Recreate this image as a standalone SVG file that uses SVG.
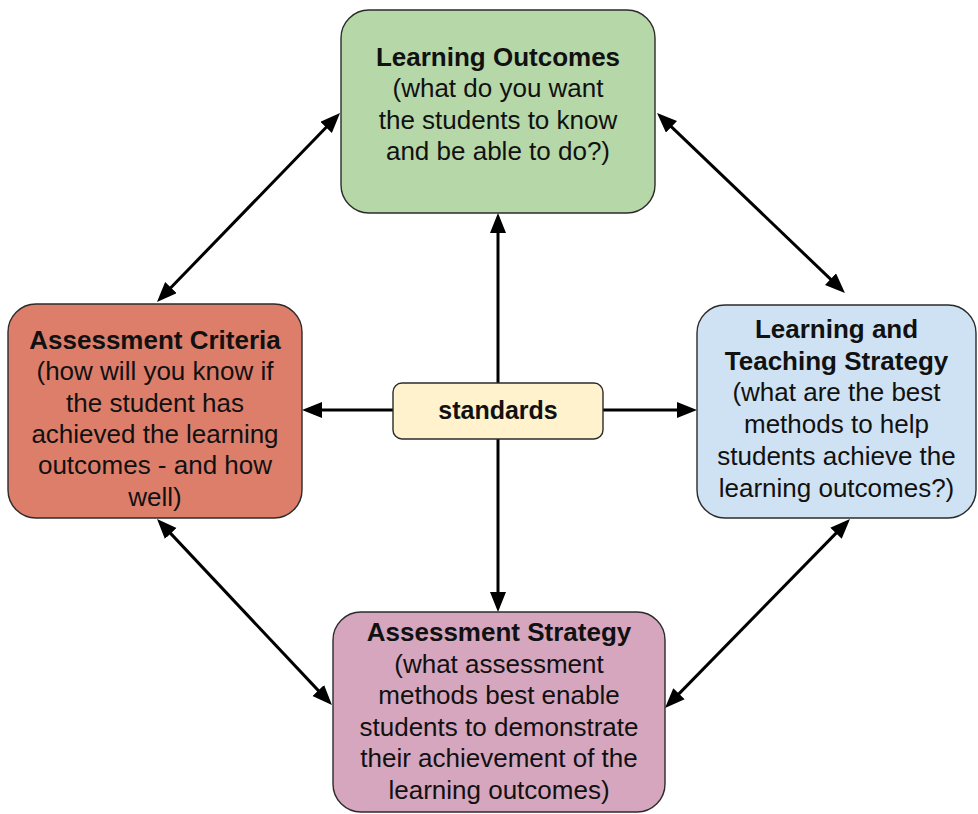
<svg xmlns="http://www.w3.org/2000/svg" width="978" height="814" viewBox="0 0 978 814">
<style>
.box{stroke:#2b2b2b;stroke-width:1.4}
text{font-family:"Liberation Sans",Arial,sans-serif;font-size:26px;fill:#111;text-anchor:middle}
.b{font-weight:bold}
.c{stroke:#000;stroke-width:3;fill:none}
</style>
<defs>
<marker id="ah" markerUnits="userSpaceOnUse" markerWidth="22" markerHeight="18" refX="4" refY="8" orient="auto-start-reverse">
<path d="M0,0 L20,8 L0,16 z" fill="#000"/>
</marker>
</defs>
<rect width="978" height="814" fill="#fff"/>
<g id="connectors">
<line class="c" x1="498" y1="383" x2="498" y2="229" marker-end="url(#ah)"/>
<line class="c" x1="393" y1="410" x2="318" y2="410" marker-end="url(#ah)"/>
<line class="c" x1="603" y1="410" x2="681" y2="410" marker-end="url(#ah)"/>
<line class="c" x1="498" y1="439" x2="498" y2="596" marker-end="url(#ah)"/>
<line class="c" x1="328.9" y1="124.5" x2="168.1" y2="290.5" marker-start="url(#ah)" marker-end="url(#ah)"/>
<line class="c" x1="668.6" y1="124.1" x2="833.4" y2="281.9" marker-start="url(#ah)" marker-end="url(#ah)"/>
<line class="c" x1="168" y1="530.6" x2="321" y2="693.4" marker-start="url(#ah)" marker-end="url(#ah)"/>
<line class="c" x1="838.8" y1="530.4" x2="676.2" y2="696.6" marker-start="url(#ah)" marker-end="url(#ah)"/>
</g>
<g id="learning-outcomes">
<rect class="box" x="341" y="10" width="314" height="203" rx="28" fill="#b6d7a8"/>
<text x="498" y="66" class="b">Learning Outcomes</text>
<text x="498" y="97">(what do you want</text>
<text x="498" y="129">the students to know</text>
<text x="498" y="160">and be able to do?)</text>
</g>
<g id="assessment-criteria">
<rect class="box" x="8" y="304" width="294" height="214" rx="28" fill="#dd7e6b"/>
<text x="155" y="349" class="b">Assessment Criteria</text>
<text x="155" y="380">(how will you know if</text>
<text x="155" y="412">the student has</text>
<text x="155" y="443">achieved the learning</text>
<text x="155" y="474">outcomes - and how</text>
<text x="155" y="506">well)</text>
</g>
<g id="learning-teaching-strategy">
<rect class="box" x="697" y="305" width="279" height="213" rx="28" fill="#cfe2f3"/>
<text x="836.5" y="338" class="b">Learning and</text>
<text x="836.5" y="370" class="b">Teaching Strategy</text>
<text x="836.5" y="401">(what are the best</text>
<text x="836.5" y="433">methods to help</text>
<text x="836.5" y="465">students achieve the</text>
<text x="836.5" y="497">learning outcomes?)</text>
</g>
<g id="assessment-strategy">
<rect class="box" x="333" y="612" width="332" height="200" rx="28" fill="#d5a6bd"/>
<text x="499" y="641" class="b">Assessment Strategy</text>
<text x="499" y="673">(what assessment</text>
<text x="499" y="704">methods best enable</text>
<text x="499" y="736">students to demonstrate</text>
<text x="499" y="767">their achievement of the</text>
<text x="499" y="799">learning outcomes)</text>
</g>
<g id="standards">
<rect class="box" x="393" y="383" width="210" height="56" rx="9" fill="#fff2cc"/>
<text x="498" y="419" class="b" style="font-size:25px">standards</text>
</g>
</svg>
